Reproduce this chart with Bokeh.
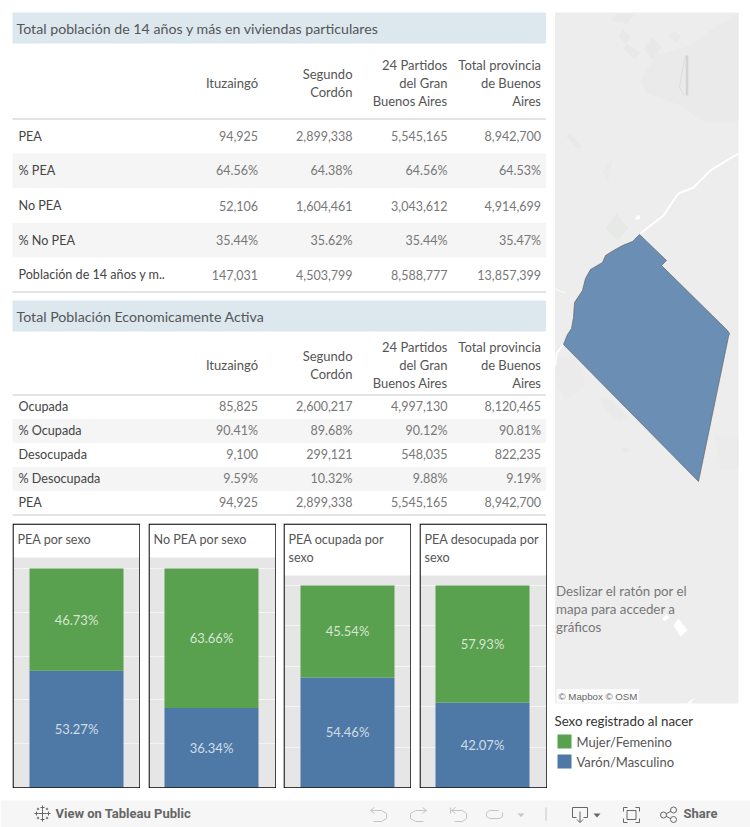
from bokeh.plotting import figure
from bokeh.layouts import column, row
from bokeh.models import Range1d, Spacer, Grid, FixedTicker, ColumnDataSource
from bokeh.core.properties import value
from bokeh.embed import file_html
from bokeh.resources import INLINE

FONT = "Lato"
GREEN, BLUE = "#59A14F", "#4E79A7"

# ---------- data ----------
COLUMNS_1 = ["Ituzaingó", "Segundo\nCordón", "24 Partidos\ndel Gran\nBuenos Aires", "Total provincia\nde Buenos\nAires"]
TITLE_1 = "Total población de 14 años y más en viviendas particulares"
ROWS_1 = ["PEA", "% PEA", "No PEA", "% No PEA", "Población de 14 años y m.."]
ITU_1 = ["94,925", "64.56%", "52,106", "35.44%", "147,031"]
SEG_1 = ["2,899,338", "64.38%", "1,604,461", "35.62%", "4,503,799"]
PAR_1 = ["5,545,165", "64.56%", "3,043,612", "35.44%", "8,588,777"]
PRO_1 = ["8,942,700", "64.53%", "4,914,699", "35.47%", "13,857,399"]

TITLE_2 = "Total Población Economicamente Activa"
ROWS_2 = ["Ocupada", "% Ocupada", "Desocupada", "% Desocupada", "PEA"]
ITU_2 = ["85,825", "90.41%", "9,100", "9.59%", "94,925"]
SEG_2 = ["2,600,217", "89.68%", "299,121", "10.32%", "2,899,338"]
PAR_2 = ["4,997,130", "90.12%", "548,035", "9.88%", "5,545,165"]
PRO_2 = ["8,120,465", "90.81%", "822,235", "9.19%", "8,942,700"]

PANEL_TITLES = [["PEA por sexo"], ["No PEA por sexo"], ["PEA ocupada por", "sexo"], ["PEA desocupada por", "sexo"]]
MUJER = [46.73, 63.66, 45.54, 57.93]
VARON = [53.27, 36.34, 54.46, 42.07]
GRID_TICKS = [0, 20, 40, 60, 80, 100]

LEGEND_TITLE = "Sexo registrado al nacer"
LEGEND_ITEMS = ["Mujer/Femenino", "Varón/Masculino"]
MAP_NOTE = ["Deslizar el ratón por el", "mapa para acceder a", "gráficos"]

# Ituzaingó outline (page pixels)
MAP_X = [639, 632, 622, 613, 605, 602, 590, 585, 582, 574, 573, 571, 567, 563, 698, 728, 729, 727, 661, 666, 639]
MAP_Y = [234, 241, 245, 250, 255, 262, 269, 278, 290, 302, 317, 328, 334, 344, 481, 336, 333, 330, 265, 260, 234]
ROAD_X = [738, 723, 710, 693, 678, 673, 663, 650, 640]
ROAD_Y = [153, 162, 170, 187, 193, 200, 215, 225, 233]


def canvas(w, h, x0, y0, **kw):
    p = figure(width=w, height=h, x_range=Range1d(x0, x0 + w), y_range=Range1d(y0 + h, y0),
               toolbar_location=None, output_backend="svg", min_border=0,
               x_axis_type=None, y_axis_type=None, outline_line_color=None, **kw)
    p.xgrid.visible = False
    p.ygrid.visible = False
    return p


def put(p, x, y, txt, size, color, align="left", font=FONT, style="normal"):
    p.text(x=[x], y=[y], text=[txt], text_font=value(font), text_font_size=f"{size}px",
           text_color=color, text_align=align, text_baseline="middle", text_font_style=style)


def table(p, title, band_top, cols, rows, vals, head_y, sep_y, row_h, bottom_y, row_dy):
    left, right = 12, 545.5
    edges = [257.5, 352, 447, 540.5]
    p.quad(left=[left], right=[right], top=[band_top], bottom=[band_top + 31], fill_color="#DCE8EE", line_color=None)
    put(p, 16, band_top + 16, title, 14.2, "#555555")
    for e, c in zip(edges, cols):
        lines = c.split("\n")
        for i, ln in enumerate(lines):
            put(p, e, head_y + (i - (len(lines) - 1) / 2) * 18, ln, 13, "#555555", "right")
    for k, lab in enumerate(rows):
        top = sep_y + k * row_h
        if k % 2:
            p.quad(left=[left], right=[right], top=[top], bottom=[top + row_h], fill_color="#F5F5F5", line_color=None)
        cy = top + row_h / 2 + row_dy
        put(p, 18, cy, lab, 12.6, "#444444")
        for e, col in zip(edges, vals):
            put(p, e, cy, col[k], 12.5, "#777777", "right")
    p.segment(x0=[left, left], x1=[right, right], y0=[sep_y, bottom_y], y1=[sep_y, bottom_y], line_color="#C8C8C8", line_width=1)


# ---------- tables ----------
tables = canvas(550, 519, 0, 0)
table(tables, TITLE_1, 12, COLUMNS_1, ROWS_1, [ITU_1, SEG_1, PAR_1, PRO_1], 82, 118.5, 34.6, 291.5, 0)
table(tables, TITLE_2, 300, COLUMNS_1, ROWS_2, [ITU_2, SEG_2, PAR_2, PRO_2], 364, 394.5, 24, 514.5, -0.7)


# ---------- stacked bars ----------
def panel(i):
    lines = PANEL_TITLES[i]
    W, H = 128, 265
    title_h = 34 if len(lines) == 1 else 52          # white strip above the grey plot area
    bar_h = H - 1 - title_h - (11 if len(lines) == 1 else 10)  # pixels for 100 %
    py = bar_h / 100                                 # pixels per percent
    px = 94                                          # pixels per bar width
    shift = 1 / px if i % 2 else 0
    x0, x1 = shift - W / 2 / px, shift + W / 2 / px
    y0, y1 = -1 / py, (H - 1) / py
    p = figure(width=W, height=H, x_range=Range1d(x0, x1), y_range=Range1d(y0, y1), toolbar_location=None,
               output_backend="svg", x_axis_type=None, y_axis_type=None, outline_line_color=None, min_border=0,
               background_fill_color="#E6E6E6", border_fill_color="white")
    p.add_layout(Grid(dimension=1, ticker=FixedTicker(ticks=GRID_TICKS), grid_line_color="#F4F4F4", grid_line_width=1))
    p.quad(left=[x0], right=[x1], bottom=[y1 - title_h / py], top=[y1], fill_color="white", line_color=None)
    src = ColumnDataSource(dict(x=[0, 0], bottom=[0, VARON[i]], top=[VARON[i], VARON[i] + MUJER[i]],
                                color=[BLUE, GREEN], mid=[VARON[i] / 2, VARON[i] + MUJER[i] / 2],
                                label=[f"{VARON[i]:.2f}%", f"{MUJER[i]:.2f}%"]))
    p.vbar(x="x", bottom="bottom", top="top", width=1, fill_color="color", line_color=None, source=src)
    p.text(x="x", y="mid", text="label", source=src, text_align="center", text_baseline="middle",
           text_font=value(FONT), text_font_size="13px", text_color="#FFFFFF", text_alpha=0.75)
    for k, ln in enumerate(lines):
        put(p, x0 + 5 / px, y1 - (16 + 18 * k) / py, ln, 12.6, "#555555")
    p.quad(left=[x0 + 0.6 / px], right=[x1 - 0.6 / px], bottom=[y0 + 0.6 / py], top=[y1 - 0.6 / py],
           fill_color=None, line_color="black", line_width=1.2)
    return p


panels = row(Spacer(width=12), panel(0), Spacer(width=8), panel(1), Spacer(width=7), panel(2), Spacer(width=8), panel(3),
             Spacer(width=3), spacing=0)

# ---------- map + legend ----------
side = canvas(200, 797, 550, 0)
side.quad(left=[554.5], right=[738], top=[12], bottom=[703], fill_color="#EDEDED", line_color=None)
BLOBS = [
    ([640, 655, 690, 710, 738, 738, 700, 680, 645], [80, 55, 45, 30, 12, 120, 120, 105, 92], "#EAEAEA"),
    ([714, 738, 738, 720], [435, 437, 470, 470], "#EBEBEB"),
    ([555, 575, 585, 565, 555], [360, 355, 385, 400, 380], "#EAEBEA"),
    ([600, 612, 628, 618, 601], [397, 400, 417, 421, 405], "#E9EAE9"),
    ([623, 630, 625, 618], [29, 37, 43, 36], "#E7E8E7"),
    ([652, 661, 652, 643], [37, 46, 59, 48], "#E7E8E7"),
    ([674, 681, 675, 668], [30, 36, 42, 36], "#E8E9E8"),
    ([626, 640, 634, 623], [43, 52, 58, 48], "#E7E8E7"),
    ([617, 634, 626, 610], [13, 13, 23, 20], "#E8E9E8"),
    ([565, 570, 582, 578], [135, 134, 146, 149], "#E8E9E8"),
    ([606, 612, 608, 602], [165, 158, 180, 172], "#E9EAE9"),
    ([616, 628, 617, 605], [213, 228, 240, 228], "#E7E9E7"),
    ([625, 629, 625, 620], [447, 449, 452, 449], "#E6E8E6"),
    ([678, 687, 680, 673], [618, 630, 636, 625], "#FFFFFF"),
    ([666, 669, 664, 662], [614, 617, 621, 618], "#FFFFFF"),
    ([636, 640, 639, 635], [215, 215, 219, 219], "#FFFFFF"),
    ([686, 694, 690], [703, 697, 703], "#FFFFFF"),
]
side.patches(xs=[b[0] for b in BLOBS], ys=[b[1] for b in BLOBS], fill_color=[b[2] for b in BLOBS], line_color=None)
side.line(x=[686.5, 686.5], y=[55, 95], line_color="#D4D4D4", line_width=2.5)
side.line(x=[685, 681, 679, 682, 684], y=[55, 75, 87, 92, 95], line_color="#DDDDDD", line_width=1)
side.line(x=ROAD_X, y=ROAD_Y, line_color="white", line_width=2)
side.line(x=[555, 560, 565], y=[288, 291, 292], line_color="white", line_width=1)
side.line(x=[563, 556, 555], y=[344, 353, 365], line_color="white", line_width=1.5)
side.patch(x=MAP_X, y=MAP_Y, fill_color=BLUE, fill_alpha=0.82, line_color="#666666", line_width=0.7)
for k, ln in enumerate(MAP_NOTE):
    put(side, 555.5, 590.5 + 18 * k, ln, 13.3, "#777777")
side.quad(left=[556], right=[638.5], top=[688.5], bottom=[702], fill_color="white", fill_alpha=0.75, line_color=None)
put(side, 558, 695.5, "© Mapbox  © OSM", 9.7, "#666666", font="Liberation Sans")
put(side, 554, 720.5, LEGEND_TITLE, 13.3, "#333333")
side.quad(left=[557, 557], right=[571, 571], top=[734, 754], bottom=[748, 768], fill_color=[GREEN, BLUE], line_color=None)
for k, ln in enumerate(LEGEND_ITEMS):
    put(side, 576, 741 + 20 * k, ln, 13, "#555555")

# ---------- toolbar strip ----------
bar = canvas(750, 30, 0, 797)
bar.quad(left=[0], right=[750], top=[800], bottom=[827], fill_color="#F6F6F6", line_color=None)
put(bar, 55, 812.5, "View on Tableau Public", 13, "#666666", font="Roboto", style="bold")
put(bar, 683, 812.5, "Share", 13, "#666666", font="Roboto", style="bold")
ic = "#666666"
pale = "#C4C4C4"
for cx, cy, r in [(42, 813, 4), (36, 813, 2), (48, 813, 2), (42, 807, 2), (42, 819, 2), (37.5, 808.5, 1.2), (46.5, 808.5, 1.2), (37.5, 817.5, 1.2), (46.5, 817.5, 1.2)]:
    bar.segment(x0=[cx - r, cx], x1=[cx + r, cx], y0=[cy, cy - r], y1=[cy, cy + r], line_color=ic, line_width=1)
icons = [
    ([370, 381, 386, 386, 381, 373], [810, 810, 813, 818, 821, 821], pale),
    ([374, 370, 374], [807, 810, 813], pale),
    ([426, 415, 410, 410, 415, 423], [810, 810, 813, 818, 821, 821], pale),
    ([422, 426, 422], [807, 810, 813], pale),
    ([451, 462, 466, 466, 462, 454], [810, 810, 813, 818, 821, 821], pale),
    ([455, 451, 455], [807, 810, 813], pale),
    ([450, 450], [807, 813], pale),
    ([498, 489, 486, 486, 489, 499, 502, 502], [810, 810, 812, 816, 818, 818, 816, 812], pale),
    ([572, 587, 587, 583], [807, 807, 817, 817], ic),
    ([576, 572, 572], [817, 817, 807], ic),
    ([579.5, 579.5], [811, 822], ic),
    ([576.5, 579.5, 582.5], [819, 822, 819], ic),
    ([623, 623, 627], [811, 807, 807], ic),
    ([635, 639, 639], [807, 807, 811], ic),
    ([639, 639, 635], [818, 822, 822], ic),
    ([627, 623, 623], [822, 822, 818], ic),
    ([626.5, 635.5, 635.5, 626.5, 626.5], [810, 810, 819, 819, 810], ic),
    ([672, 663, 672], [810, 814.5, 819], ic),
]
bar.multi_line(xs=[i[0] for i in icons], ys=[i[1] for i in icons], line_color=[i[2] for i in icons], line_width=1)
bar.line(x=[545.5, 545.5], y=[807, 820], line_color=pale, line_width=1)
bar.patches(xs=[[517, 524, 520.5], [593, 600, 596.5]], ys=[[813, 813, 816.5], [813, 813, 817]], fill_color=[pale, ic], line_color=None)
bar.scatter(x=[663, 673, 673], y=[814.5, 809.5, 819], size=6, marker="circle", fill_color="#F6F6F6", line_color=ic)

left_col = column(tables, Spacer(height=4), panels, Spacer(height=9), spacing=0)
top_part = row(left_col, side, spacing=0)
page = column(top_part, bar, spacing=0)
open("out.html", "w").write(file_html(page, INLINE))
